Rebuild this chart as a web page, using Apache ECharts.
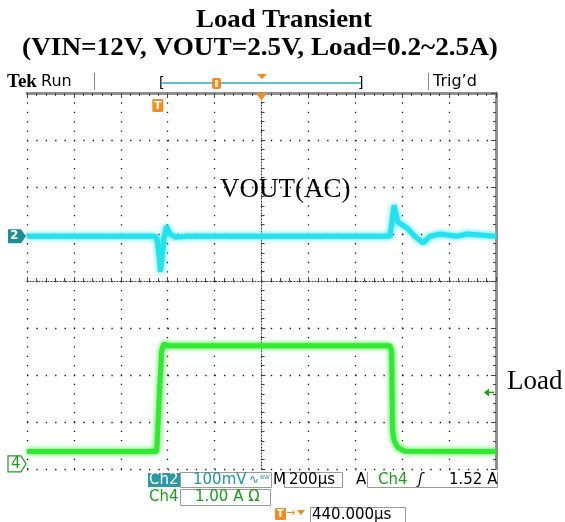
<!DOCTYPE html>
<html><head><meta charset="utf-8">
<script src="https://cdn.jsdelivr.net/npm/echarts@6/dist/echarts.min.js"></script>
<style>html,body{margin:0;padding:0;background:#fff}#c{width:565px;height:522px}</style>
</head><body><div id="c"></div>
<script>
// Time in microseconds relative to the trigger (200 µs/div, 10 divisions)
const timeRange = [-560, 1440];
// Ch2: VOUT (AC), mV (100 mV/div)
const voutTime = [-560, -14, -6, 3, 9, 15, 24, 35, 41, 50, 71, 120, 988, 996, 1005, 1022, 1060, 1094, 1129, 1158, 1201, 1274, 1316, 1440];
const vout     = [0, 0, -5, -40, -76, -50, -5, 22, 18, 5, -2, 0, 0, 30, 66, 30, 18, 0, -14, 0, 5, 0, 5, 0];
const voutRange = [-495, 305];
// Ch4: Load current, A (1 A/div)
const loadTime = [-560, -7, 3, 14, 24, 40, 988, 995, 999, 1005, 1022, 1052, 1440];
const load     = [0.26, 0.26, 1.3, 2.4, 2.56, 2.51, 2.51, 2.4, 0.72, 0.5, 0.34, 0.27, 0.26];
const loadRange = [-0.11, 7.89];
const trigLevel = 1.52;
// Screen divisions
const xDiv = [-5, 5];
const yDiv = [-4, 4];

const CYAN = '#22e2ee', GREEN = '#30ea30', TEAL = '#2196a2', DGREEN = '#1a9e1a', ORANGE = '#f28c1c';
const UI = '"DejaVu Sans", sans-serif';
const SERIF = '"Liberation Serif", "Times New Roman", serif';

const chart = echarts.init(document.getElementById('c'), null, {renderer: 'canvas'});

const dotted = {show: true, lineStyle: {color: '#111', width: 1.3, type: [1.3, 8.08]}};
function divAxis(range, pos, center) {
  return {
    type: 'value', min: range[0], max: range[1], interval: 1, position: pos,
    axisLine: center
      ? {show: true, onZero: true, onZeroAxisIndex: 0, lineStyle: {color: '#333', width: 1, type: [1, 2]}}
      : {show: true, onZero: false, lineStyle: {color: '#8c8c8c', width: 2.5}},
    axisTick: {show: true, inside: true, length: center ? 4 : 5, lineStyle: {color: '#444'}},
    minorTick: {show: true, splitNumber: 5, length: 3, lineStyle: {color: '#444'}},
    axisLabel: {show: false},
    splitLine: center ? dotted : {show: false},
    z: 1
  };
}
const hidden = (range) => ({type: 'value', min: range[0], max: range[1], show: false,
  axisLine: {onZero: false}, splitLine: {show: false}});

const option = {
  animation: false,
  backgroundColor: '#fff',
  grid: {left: 27, top: 93, width: 469, height: 376, containLabel: false},
  xAxis: [
    divAxis(xDiv, 'bottom', true),
    divAxis(xDiv, 'top', false),
    divAxis(xDiv, 'top', false),
    hidden(timeRange)
  ],
  yAxis: [
    divAxis(yDiv, 'left', true),
    divAxis(yDiv, 'right', false),
    divAxis(yDiv, 'right', false),
    hidden(voutRange),
    hidden(loadRange)
  ],
  series: [
    {name: 'VOUT(AC)', type: 'line', xAxisIndex: 3, yAxisIndex: 3, symbol: 'none', z: 5,
      data: voutTime.map((t, i) => [t, vout[i]]),
      lineStyle: {color: CYAN, width: 5, shadowColor: CYAN, shadowBlur: 5}},
    {name: 'Load', type: 'line', xAxisIndex: 3, yAxisIndex: 4, symbol: 'none', z: 5,
      data: loadTime.map((t, i) => [t, load[i]]),
      lineStyle: {color: GREEN, width: 5, shadowColor: GREEN, shadowBlur: 5}}
  ]
};
chart.setOption(option);

// Markers placed from axis scales
const y2 = chart.convertToPixel({yAxisIndex: 3}, 0);
const y4 = chart.convertToPixel({yAxisIndex: 4}, 0);
const yTrig = chart.convertToPixel({yAxisIndex: 4}, trigLevel);
const xTrig = chart.convertToPixel({xAxisIndex: 3}, 0);
const xCenter = chart.convertToPixel({xAxisIndex: 0}, 0);
const gTop = 93;

function txt(x, y, s, o, extra) {
  return Object.assign({type: 'text', x: x, y: y, z: 20, style: Object.assign({text: s, fontFamily: UI, fontSize: 15, fill: '#000', textVerticalAlign: 'middle'}, o || {})}, extra || {});
}
function box(x, y, w, h, fill) {
  return {type: 'rect', shape: {x: x, y: y, width: w, height: h}, style: {fill: fill || 'none', stroke: '#9a9a9a', lineWidth: 1}};
}
const g = [
  // titles
  txt(284, 20, 'Load Transient', {fontFamily: SERIF, fontSize: 26, fontWeight: 'bold', textAlign: 'center'}, {scaleX: 1.03, originX: 0}),
  txt(260, 48, '(VIN=12V, VOUT=2.5V, Load=0.2~2.5A)', {fontFamily: SERIF, fontSize: 26, fontWeight: 'bold', textAlign: 'center'}, {scaleX: 1.047, originX: 0}),
  // header
  txt(7, 82, 'Tek', {fontFamily: SERIF, fontWeight: 'bold', fontSize: 19}),
  txt(41, 82, 'Run', {fontSize: 16}),
  {type: 'line', shape: {x1: 94.5, y1: 73, x2: 94.5, y2: 90}, style: {stroke: '#888', lineWidth: 1}},
  {type: 'line', shape: {x1: 428.5, y1: 73, x2: 428.5, y2: 90}, style: {stroke: '#888', lineWidth: 1}},
  txt(433, 82, 'Trig\u2019d', {fontSize: 16}),
  txt(159, 83, '[', {fontSize: 14}),
  txt(358, 83, ']', {fontSize: 14}),
  {type: 'line', shape: {x1: 162, y1: 83, x2: 361, y2: 83}, style: {stroke: '#5ec4c4', lineWidth: 2}},
  {type: 'rect', shape: {x: 212, y: 78, width: 9, height: 11, r: 2}, style: {fill: ORANGE}},
  {type: 'rect', shape: {x: 215, y: 80, width: 3, height: 7}, style: {fill: '#fde1b8'}},
  {type: 'polygon', shape: {points: [[257, 74], [267, 74], [262, 79]]}, style: {fill: ORANGE}},
  {type: 'polygon', shape: {points: [[xCenter - 6, gTop], [xCenter + 6, gTop], [xCenter, gTop + 7]]}, style: {fill: ORANGE}, z: 10},
  // trigger position marker
  {type: 'rect', shape: {x: xTrig - 6, y: 99, width: 11, height: 13, r: 1}, style: {fill: ORANGE}, z: 10},
  txt(xTrig - 0.5, 106, 'T', {fill: '#fff', fontWeight: 'bold', fontSize: 11, textAlign: 'center'}),
  // channel 2 ground marker
  {type: 'polygon', shape: {points: [[8, y2 - 7], [21, y2 - 7], [26, y2], [21, y2 + 7], [8, y2 + 7]]}, style: {fill: '#1b8f96'}, z: 10},
  txt(10, y2, '2', {fill: '#fff', fontWeight: 'bold', fontSize: 12}),
  // channel 4 ground marker
  {type: 'polygon', shape: {points: [[8, y4 - 8], [21, y4 - 8], [26, y4], [21, y4 + 8], [8, y4 + 8]]}, style: {fill: '#fff', stroke: DGREEN, lineWidth: 1.2}, z: 10},
  txt(11, y4, '4', {fill: DGREEN, fontSize: 15}),
  // trigger level marker
  {type: 'polygon', shape: {points: [[484, yTrig], [489, yTrig - 4], [489, yTrig + 4]]}, style: {fill: DGREEN}, z: 10},
  {type: 'line', shape: {x1: 488, y1: yTrig, x2: 494, y2: yTrig}, style: {stroke: DGREEN, lineWidth: 1.5}, z: 10},
  // labels
  txt(220, 190, 'VOUT(AC)', {fontFamily: SERIF, fontSize: 27}),
  txt(507, 382, 'Load', {fontFamily: SERIF, fontSize: 27}),
  // bottom readout row 1
  {type: 'rect', shape: {x: 148, y: 473, width: 32, height: 14}, style: {fill: '#2a98a5'}},
  txt(149, 480, 'Ch2', {fill: '#fff'}),
  box(180.5, 472.5, 91, 15),
  txt(193, 480, '100mV', {fill: TEAL}),
  txt(249, 480, '\u223F', {fill: TEAL, fontSize: 12}),
  txt(260, 477, 'BW', {fill: TEAL, fontSize: 6}),
  txt(273, 480, 'M'),
  box(284.5, 472.5, 58, 15),
  txt(289, 480, '200\u00B5s'),
  txt(356, 480, 'A'),
  {type: 'polyline', shape: {points: [[367.5, 472], [367.5, 487.5], [497.5, 487.5], [497.5, 472]]}, style: {stroke: '#9a9a9a', fill: 'none', lineWidth: 1}},
  txt(378, 480, 'Ch4', {fill: DGREEN}),
  txt(418, 480, '\u0283', {fontSize: 15, fontStyle: 'italic'}),
  txt(449, 480, '1.52 A'),
  // row 2
  txt(149, 497, 'Ch4', {fill: DGREEN}),
  box(180.5, 489.5, 90, 16),
  txt(195, 497.5, '1.00 A \u03A9', {fill: DGREEN}),
  // row 3
  {type: 'rect', shape: {x: 275, y: 508, width: 11, height: 12, r: 1}, style: {fill: ORANGE}},
  txt(280.5, 514, 'T', {fill: '#fff', fontWeight: 'bold', fontSize: 10, textAlign: 'center'}),
  txt(286, 513, '\u2192', {fill: ORANGE, fontSize: 11}),
  {type: 'polygon', shape: {points: [[297, 510], [305, 510], [301, 515]]}, style: {fill: ORANGE}},
  box(310.5, 507.5, 95, 15),
  txt(312, 515, '440.000\u00B5s')
];
chart.setOption({graphic: g});
</script></body></html>
